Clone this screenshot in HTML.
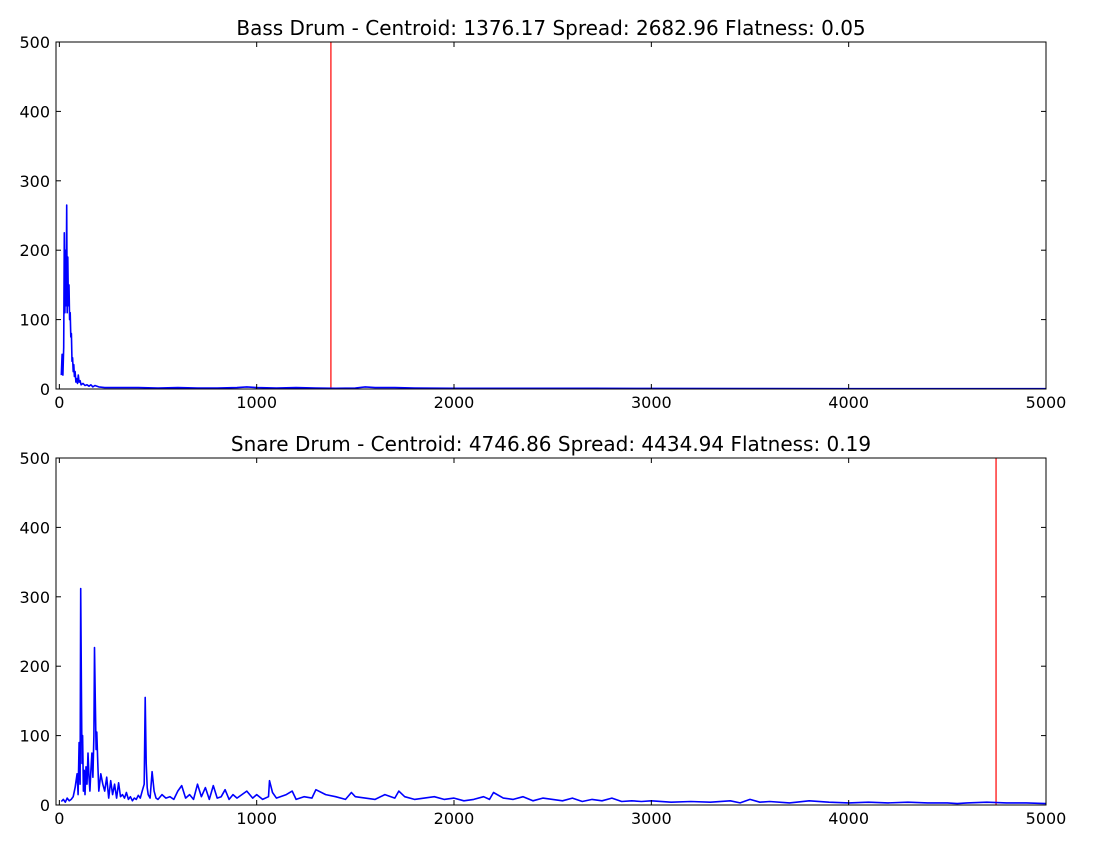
<!DOCTYPE html>
<html><head><meta charset="utf-8"><style>
html,body{margin:0;padding:0;background:#fff;}
svg{display:block;font-family:"DejaVu Sans","Liberation Sans",sans-serif;}
</style></head><body>
<svg id="fig" width="1101" height="848" xmlns="http://www.w3.org/2000/svg"></svg>
<script>
const xTicks=[0,1000,2000,3000,4000,5000];
const yTicks=[0,100,200,300,400,500];
const bassTitle="Bass Drum - Centroid: 1376.17 Spread: 2682.96 Flatness: 0.05";
const snareTitle="Snare Drum - Centroid: 4746.86 Spread: 4434.94 Flatness: 0.19";
const bassCentroid=1376.17;
const snareCentroid=4746.86;
const bassFreq=[10,14,18,22,25,28,31,34,37,40,43,46,49,52,55,58,61,64,67,70,73,76,80,84,88,92,96,100,105,110,120,130,140,150,160,170,180,200,230,260,300,400,500,600,700,800,900,950,1000,1100,1200,1300,1400,1500,1550,1600,1700,1800,2000,2200,2500,2700,3000,3500,4000,4500,5000];
const bassVal=[20,50,20,60,225,110,200,120,265,110,190,120,150,100,110,75,80,40,45,25,35,18,25,10,15,8,20,10,12,6,8,5,6,4,6,3,5,3,2,2,2,2,1.5,2,1.5,1.5,2,3,2,1.5,2,1.5,1,1.5,3,2,2,1.5,1,1,1,1,0.8,0.7,0.5,0.5,0.5];
const snareFreq=[10,20,30,40,50,60,70,80,90,95,100,105,108,112,115,118,122,126,130,135,140,145,150,155,160,165,170,175,178,182,186,190,195,200,210,220,230,240,250,260,270,280,290,300,310,320,330,340,350,360,370,380,390,400,410,420,430,435,440,445,450,460,470,480,490,500,520,540,560,580,600,620,640,660,680,700,720,740,760,780,800,820,840,860,880,900,950,980,1000,1030,1060,1065,1080,1100,1150,1180,1200,1240,1280,1300,1350,1400,1450,1480,1500,1550,1600,1650,1700,1720,1750,1800,1850,1900,1950,2000,2050,2100,2150,2180,2200,2250,2300,2350,2400,2450,2500,2550,2600,2650,2700,2750,2800,2850,2900,2950,3000,3100,3200,3300,3400,3450,3500,3550,3600,3700,3800,3900,4000,4100,4200,4300,4400,4500,4550,4600,4700,4800,4900,5000];
const snareVal=[5,8,4,10,6,8,12,25,45,15,90,30,312,150,60,100,20,50,15,55,30,75,40,20,50,75,40,100,227,150,80,105,60,20,45,30,20,40,10,35,15,30,10,32,12,15,10,18,8,12,6,10,8,14,10,20,30,155,60,25,15,10,48,20,10,8,15,10,12,8,20,28,10,15,8,30,12,25,8,28,10,12,22,8,15,10,20,10,15,8,12,35,18,10,15,20,8,12,10,22,15,12,8,18,12,10,8,15,10,20,12,8,10,12,8,10,6,8,12,8,18,10,8,12,6,10,8,6,10,5,8,6,10,5,6,5,6,4,5,4,6,3,8,4,5,3,6,4,3,4,3,4,3,3,2,3,4,3,3,2,3,2];

const svg=document.getElementById('fig');
const NS="http://www.w3.org/2000/svg";
function mk(tag,attrs,parent){const e=document.createElementNS(NS,tag);for(const k in attrs)e.setAttribute(k,attrs[k]);(parent||svg).appendChild(e);return e;}

function panel(top,title,freq,vals,centroid,prefix){
  const L=56,R=1046,T=top,B=top+347;
  const X0=-17,X1=5000;
  const sx=v=>L+(v-X0)/(X1-X0)*(R-L);
  const sy=v=>B-v/500*(B-T);
  const g=mk('g',{});
  
  
  const t=mk('text',{x:(L+R)/2,y:T-7,'text-anchor':'middle','font-size':20},g);
  t.textContent=title;
  
  
  const c=mk('line',{x1:sx(centroid),x2:sx(centroid),y1:T,y2:B,stroke:'#ff0000','stroke-width':1.2},g);
  
  
  let d='';
  for(let i=0;i<freq.length;i++){d+=(i?'L':'M')+sx(freq[i]).toFixed(1)+','+sy(vals[i]).toFixed(1);}
  const p=mk('path',{d:d,fill:'none',stroke:'#0000ff','stroke-width':1.6,'stroke-linejoin':'round'},g);
  
  
  const f=mk('rect',{x:L,y:T,width:R-L,height:B-T,fill:'none',stroke:'#000','stroke-width':1},g);
  
  
  for(const v of xTicks){
    const x=sx(v);
    mk('line',{x1:x,x2:x,y1:B,y2:B-5,stroke:'#000'},g);
    mk('line',{x1:x,x2:x,y1:T,y2:T+5,stroke:'#000'},g);
    const tl=mk('text',{x:x,y:B+19,'text-anchor':'middle','font-size':16},g);
    tl.textContent=v;
    
    
  }
  for(const v of yTicks){
    const y=sy(v);
    mk('line',{x1:L,x2:L+5,y1:y,y2:y,stroke:'#000'},g);
    mk('line',{x1:R,x2:R-5,y1:y,y2:y,stroke:'#000'},g);
    const tl=mk('text',{x:L-6,y:y+6,'text-anchor':'end','font-size':16},g);
    tl.textContent=v;
    
    
  }
}
panel(42,bassTitle,bassFreq,bassVal,bassCentroid,'bass-drum');
panel(458,snareTitle,snareFreq,snareVal,snareCentroid,'snare-drum');
</script>
</body></html>
